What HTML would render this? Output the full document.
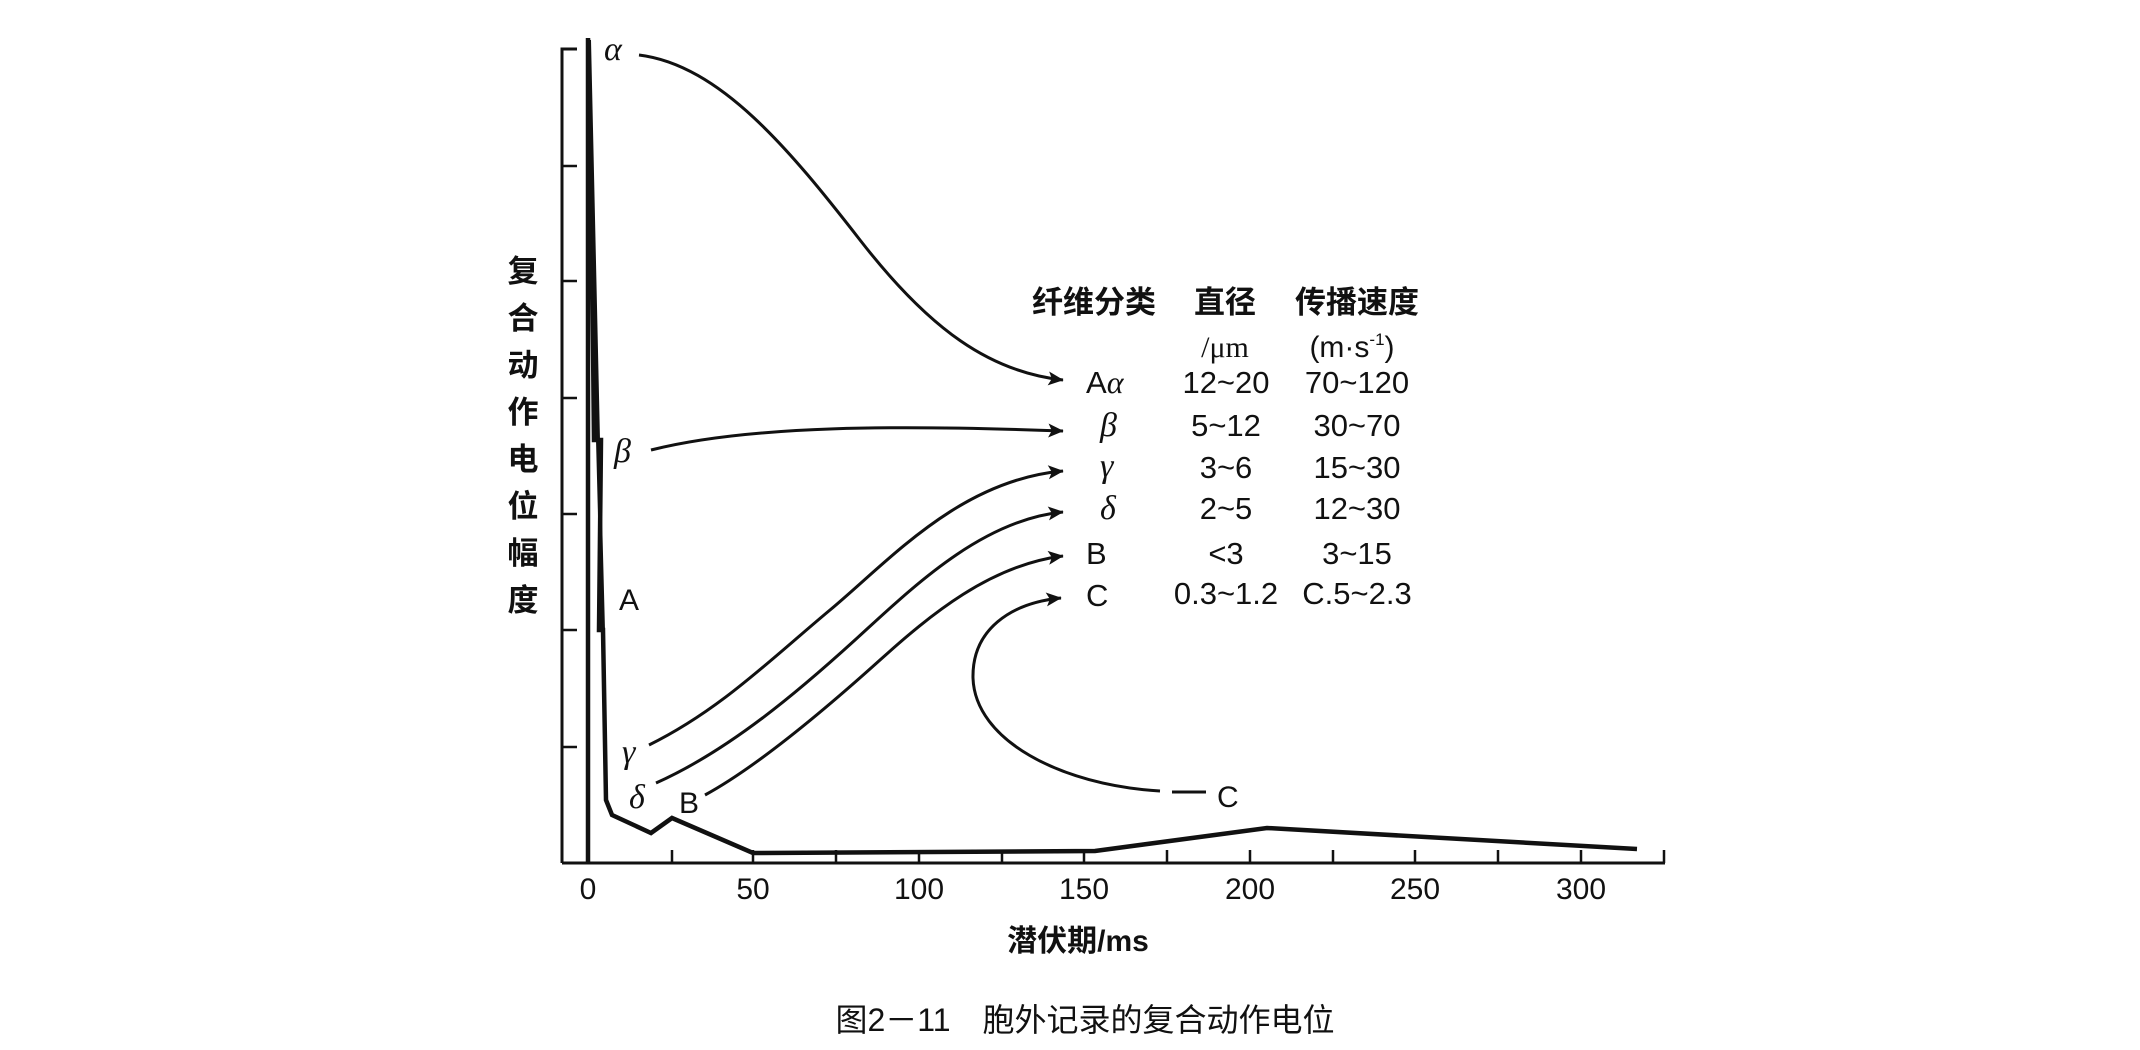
<!DOCTYPE html>
<html><head><meta charset="utf-8"><style>
html,body{margin:0;padding:0;background:#fff;}
svg{display:block;}
text{font-family:"Liberation Sans","Noto Sans CJK SC",sans-serif;fill:#111;}
.g{font-family:"Liberation Serif","DejaVu Serif",serif;font-style:italic;font-size:34px;}
.n{font-size:30px;}
.t{font-size:31px;}
.h{font-size:31px;font-weight:bold;}
</style></head><body>
<svg width="2140" height="1050" viewBox="0 0 2140 1050" xmlns="http://www.w3.org/2000/svg">
<defs><marker id="ar" viewBox="0 0 10 10" refX="9" refY="5" markerWidth="7" markerHeight="7" orient="auto" markerUnits="userSpaceOnUse" style="overflow:visible"><path d="M-12,-5 L10,5 L-12,15 L-7,5 Z" fill="#111"/></marker></defs>
<g stroke="#111" fill="none">
<path d="M577,49 L562,49 L562,863" stroke-width="3"/>
<g stroke-width="2.5"><path d="M562,166h15M562,281h15M562,398h15M562,514h15M562,630h15M562,747h15"/></g>
<path d="M562,863 L1665,863" stroke-width="3"/>
<g stroke-width="2.5">
<path d="M672,863v-13M753,863v-13M836,863v-13M919,863v-13M1002,863v-13M1084,863v-13M1167,863v-13M1250,863v-13M1333,863v-13M1415,863v-13M1498,863v-13M1581,863v-13M1664,863v-13"/>
</g>
<path d="M588,863 L588,38 L592,250 L594,440 L601,440 L599,630 L603,630 L606,800 L612,815 L651,833 L672,818 L753,853 L1095,851 L1267,828 L1637,849" stroke-width="4.5" stroke-linejoin="miter"/>
<path d="M589,40 L598,440 L603,630" stroke-width="4"/>
<g stroke-width="3">
<path d="M639,55 C720,65 790,150 860,240 S 990,372 1063,380" marker-end="url(#ar)"/>
<path d="M651,450 C750,425 900,425 1063,431" marker-end="url(#ar)"/>
<path d="M649,745 C720,710 770,660 830,610 S 960,480 1063,471" marker-end="url(#ar)"/>
<path d="M656,783 C730,750 800,690 855,640 S 980,520 1063,512" marker-end="url(#ar)"/>
<path d="M705,795 C760,765 830,705 880,660 S 990,565 1063,556" marker-end="url(#ar)"/>
<path d="M1160,791 C1060,785 975,740 973,678 C972,630 1010,603 1061,598" marker-end="url(#ar)"/>
<path d="M1172,792 L1206,792"/>
</g>
</g>
<text class="g" x="604" y="60">α</text>
<text class="g" x="614" y="462">β</text>
<text x="619" y="610" class="n">A</text>
<text class="g" x="622" y="763">γ</text>
<text class="g" x="629" y="808">δ</text>
<text x="679" y="813" class="n">B</text>
<text x="1217" y="807" class="n">C</text>
<text class="h" x="1094" y="313" text-anchor="middle">纤维分类</text>
<text class="h" x="1225" y="313" text-anchor="middle">直径</text>
<text class="h" x="1357" y="313" text-anchor="middle">传播速度</text>
<text class="n" x="1225" y="357" text-anchor="middle" style="font-family:'Liberation Serif',serif">/μm</text>
<text class="n" x="1352" y="357" text-anchor="middle">(m·s<tspan font-size="17" dy="-12">-1</tspan><tspan dy="12">)</tspan></text>
<g class="t">
<text x="1086" y="393">A<tspan class="g" style="font-size:32px">α</tspan></text>
<text class="g" x="1100" y="436">β</text>
<text class="g" x="1100" y="477">γ</text>
<text class="g" x="1100" y="519">δ</text>
<text x="1086" y="564">B</text>
<text x="1086" y="606">C</text>
</g>
<g class="t" text-anchor="middle">
<text x="1226" y="393">12~20</text><text x="1357" y="393">70~120</text>
<text x="1226" y="436">5~12</text><text x="1357" y="436">30~70</text>
<text x="1226" y="478">3~6</text><text x="1357" y="478">15~30</text>
<text x="1226" y="519">2~5</text><text x="1357" y="519">12~30</text>
<text x="1226" y="564">&lt;3</text><text x="1357" y="564">3~15</text>
<text x="1226" y="604">0.3~1.2</text><text x="1357" y="604">C.5~2.3</text>
</g>
<g class="n" text-anchor="middle">
<text x="588" y="899">0</text><text x="753" y="899">50</text><text x="919" y="899">100</text>
<text x="1084" y="899">150</text><text x="1250" y="899">200</text><text x="1415" y="899">250</text><text x="1581" y="899">300</text>
</g>
<text x="1078" y="951" text-anchor="middle" style="font-size:30px;font-weight:bold">潜伏期/ms</text>
<g text-anchor="middle" style="font-size:31px;font-weight:bold">
<text x="523" y="282">复</text><text x="523" y="329">合</text><text x="523" y="376">动</text><text x="523" y="423">作</text>
<text x="523" y="470">电</text><text x="523" y="517">位</text><text x="523" y="564">幅</text><text x="523" y="611">度</text>
</g>
<text x="1085" y="1031" text-anchor="middle" style="font-size:32px">图2－11　胞外记录的复合动作电位</text>
</svg>
</body></html>
